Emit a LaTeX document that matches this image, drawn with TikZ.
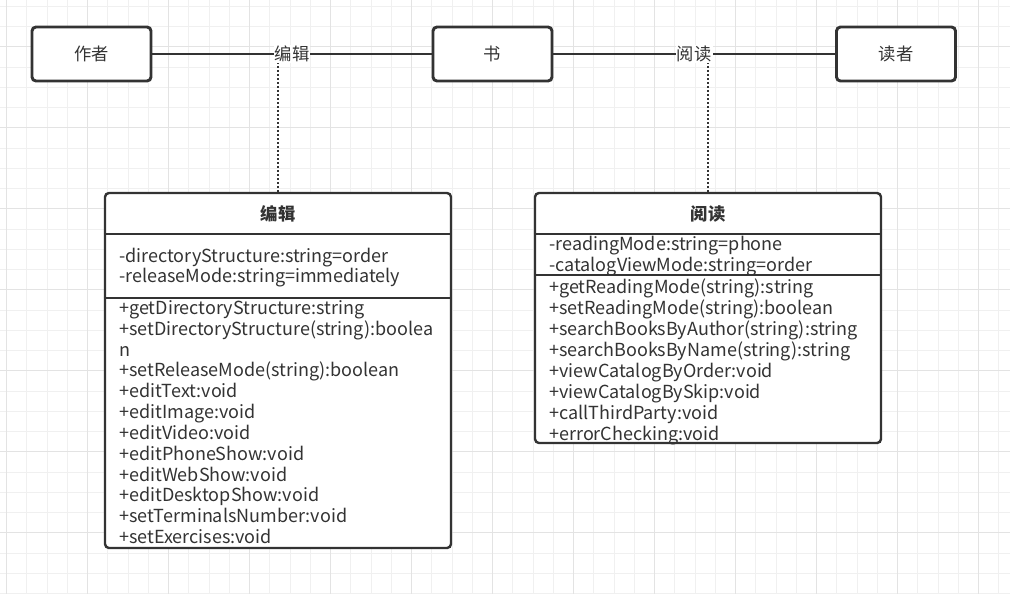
\documentclass[tikz,border=0pt]{standalone}
\usepackage{fontspec}
\setmainfont{Noto Sans CJK SC}
\definecolor{ink}{HTML}{333333}
\definecolor{gridminor}{HTML}{F0F0F0}
\definecolor{gridmajor}{HTML}{E3E3E3}
\newcommand{\memberfont}{\fontsize{13.5}{16}\selectfont}
\newcommand{\cjkfont}{\fontsize{13}{15}\selectfont}
\tikzset{
  entity/.style={draw=ink, line width=2.2pt, rounded corners=3pt, fill=white,
    minimum width=89.25pt, minimum height=40.5pt, inner sep=0pt, text=ink, font=\cjkfont},
  classbox/.style={draw=ink, line width=1.8pt, rounded corners=3pt, fill=white,
    inner sep=0pt, minimum width=259.5pt},
  assoc/.style={draw=ink, line width=2.2pt},
  assoclabel/.style={fill=white, text=ink, inner sep=0.8pt, font=\cjkfont},
  linkline/.style={draw=ink, line width=1.5pt, dash pattern=on 1.5pt off 1.5pt},
  sepline/.style={draw=ink, line width=1.5pt},
  classtitle/.style={text=ink, inner sep=0pt, font=\cjkfont\bfseries},
  member/.style={anchor=base west, inner sep=0pt, text=ink, font=\memberfont},
}
\begin{document}
\begin{tikzpicture}[x=0.75pt,y=-0.75pt]
\useasboundingbox (0,0) rectangle (1010,594);
\fill[white] (0,0) rectangle (1010,594);
% grid
\foreach \k in {0,...,49}{
  \pgfmathsetmacro\gx{6.7+20.25*\k}
  \draw[gridminor, line width=0.75pt] (\gx,0) -- (\gx,594);
}
\foreach \k in {0,...,29}{
  \pgfmathsetmacro\gy{6.3+20.25*\k}
  \draw[gridminor, line width=0.75pt] (0,\gy) -- (1010,\gy);
}
\foreach \k in {0,4,...,48}{
  \pgfmathsetmacro\gx{6.7+20.25*\k}
  \draw[gridmajor, line width=0.75pt] (\gx,0) -- (\gx,594);
}
\foreach \k in {2,6,...,26}{
  \pgfmathsetmacro\gy{6.3+20.25*\k}
  \draw[gridmajor, line width=0.75pt] (0,\gy) -- (1010,\gy);
}

% entities
\node[entity] (author) at (91.5,54) {作者};
\node[entity] (book) at (492.5,54) {书};
\node[entity] (reader) at (896,54) {读者};

% class boxes
\node[classbox, minimum height=266.25pt] (edit) at (278,370.5) {};
\node[classbox, minimum height=187.5pt] (read) at (708,318) {};

% association-class links (dotted)
\coordinate (j1) at (278,54);
\coordinate (j2) at (708,54);
\draw[linkline] (j1) -- (edit.north);
\draw[linkline] (j2) -- (read.north);

% associations
\draw[assoc] (author) -- node[assoclabel] (lab1) {编辑} (book);
\draw[assoc] (book) -- node[assoclabel] (lab2) {阅读} (reader);

% class 编辑
\node[classtitle] (edittitle) at (278,214) {编辑};
\draw[sepline] (edit.west |- 0,234) -- (edit.east |- 0,234);
\draw[sepline] (edit.west |- 0,297.5) -- (edit.east |- 0,297.5);
\node[member] (ea1) at (119,262.5) {-directoryStructure:string=order};
\node[member] (ea2) at (119,282.6) {-releaseMode:string=immediately};
\foreach \t [count=\i from 0] in {
  +getDirectoryStructure:string,
  +setDirectoryStructure(string):boolea,
  n,
  +setReleaseMode(string):boolean,
  +editText:void,
  +editImage:void,
  +editVideo:void,
  +editPhoneShow:void,
  +editWebShow:void,
  +editDesktopShow:void,
  +setTerminalsNumber:void,
  +setExercises:void}{
  \node[member] (em\i) at (119,{314.3+20.85*\i}) {\t};
}

% class 阅读
\node[classtitle] (readtitle) at (708,214) {阅读};
\draw[sepline] (read.west |- 0,234) -- (read.east |- 0,234);
\draw[sepline] (read.west |- 0,275) -- (read.east |- 0,275);
\node[member] (ra1) at (549,250.7) {-readingMode:string=phone};
\node[member] (ra2) at (549,271) {-catalogViewMode:string=order};
\foreach \t [count=\i from 0] in {
  +getReadingMode(string):string,
  +setReadingMode(string):boolean,
  +searchBooksByAuthor(string):string,
  +searchBooksByName(string):string,
  +viewCatalogByOrder:void,
  +viewCatalogBySkip:void,
  +callThirdParty:void,
  +errorChecking:void}{
  \node[member] (rm\i) at (549,{293.3+20.96*\i}) {\t};
}
\end{tikzpicture}
\end{document}
